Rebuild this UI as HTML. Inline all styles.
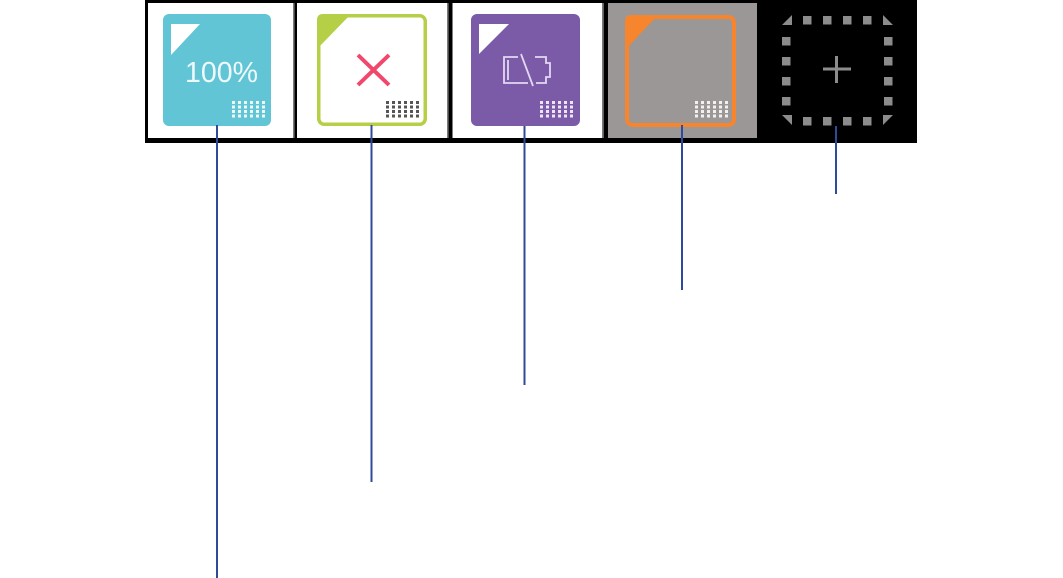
<!DOCTYPE html>
<html>
<head>
<meta charset="utf-8">
<style>
  html,body{margin:0;padding:0;background:#fff;}
  body{width:1063px;height:578px;overflow:hidden;position:relative;}
  svg{position:absolute;left:0;top:0;display:block;}
</style>
</head>
<body>
<svg width="1063" height="578" viewBox="0 0 1063 578" xmlns="http://www.w3.org/2000/svg">
  <defs>
    <g id="dots">
      <rect x="0" y="0" width="3" height="3"/><rect x="6" y="0" width="3" height="3"/><rect x="12" y="0" width="3" height="3"/><rect x="18" y="0" width="3" height="3"/><rect x="24" y="0" width="3" height="3"/><rect x="30" y="0" width="3" height="3"/>
      <rect x="0" y="4.5" width="3" height="3"/><rect x="6" y="4.5" width="3" height="3"/><rect x="12" y="4.5" width="3" height="3"/><rect x="18" y="4.5" width="3" height="3"/><rect x="24" y="4.5" width="3" height="3"/><rect x="30" y="4.5" width="3" height="3"/>
      <rect x="0" y="9" width="3" height="3"/><rect x="6" y="9" width="3" height="3"/><rect x="12" y="9" width="3" height="3"/><rect x="18" y="9" width="3" height="3"/><rect x="24" y="9" width="3" height="3"/><rect x="30" y="9" width="3" height="3"/>
      <rect x="0" y="13.5" width="3" height="3"/><rect x="6" y="13.5" width="3" height="3"/><rect x="12" y="13.5" width="3" height="3"/><rect x="18" y="13.5" width="3" height="3"/><rect x="24" y="13.5" width="3" height="3"/><rect x="30" y="13.5" width="3" height="3"/>
    </g>
  </defs>
  <rect x="0" y="0" width="1063" height="578" fill="#ffffff"/>
  <!-- strip background -->
  <rect x="145" y="0" width="772" height="143" fill="#000000"/>
  <!-- cells -->
  <rect x="148" y="3" width="145" height="135" fill="#ffffff"/>
  <rect x="293" y="3" width="1.6" height="135" fill="#7a7a7a"/>
  <rect x="297" y="3" width="150" height="135" fill="#ffffff"/>
  <rect x="447" y="3" width="1.6" height="135" fill="#7a7a7a"/>
  <rect x="452.5" y="3" width="149.5" height="135" fill="#ffffff"/>
  <rect x="602" y="3" width="1.8" height="135" fill="#7a7a7a"/>
  <rect x="608" y="3" width="149" height="135" fill="#9b9797"/>

  <!-- Tile 1: cyan 100% -->
  <rect x="163" y="14" width="108" height="112" rx="6" fill="#61c5d6"/>
  <polygon points="171,24 200,24 171,55" fill="#ffffff"/>
  <text x="185" y="82" font-family="'Liberation Sans', sans-serif" font-size="29" fill="#eef9fb" textLength="73" lengthAdjust="spacingAndGlyphs">100%</text>
  <use href="#dots" x="232" y="101" fill="#eef9fb"/>

  <!-- Tile 2: green border, red X -->
  <rect x="318.75" y="15.75" width="106.5" height="108.5" rx="5.5" fill="#ffffff" stroke="#b5cf46" stroke-width="3.5"/>
  <path d="M317,49 L317,20 Q317,14 323,14 L351,14 Z" fill="#b5cf46"/>
  <g stroke="#f2476c" stroke-width="4" stroke-linecap="butt">
    <line x1="358" y1="55" x2="389" y2="85"/>
    <line x1="389" y1="55" x2="358" y2="85"/>
  </g>
  <use href="#dots" x="386" y="101" fill="#555555"/>

  <!-- Tile 3: purple battery -->
  <rect x="471" y="14" width="109" height="112" rx="6" fill="#7b5ba8"/>
  <polygon points="479,24 509,24 479,54" fill="#ffffff"/>
  <g fill="none" stroke="#e4d8f2" stroke-width="1.8">
    <polyline points="518,57 504,57 504,83 528,83"/>
    <line x1="508" y1="60" x2="508" y2="80"/>
    <line x1="521" y1="54" x2="533" y2="86"/>
    <polyline points="535,57 546,57 546,63 550,63 550,77 546,77 546,83 536,83"/>
  </g>
  <use href="#dots" x="540" y="101" fill="#eee6f6"/>

  <!-- Tile 4: orange border on gray -->
  <rect x="627" y="17" width="107" height="108" rx="5.5" fill="#9b9797" stroke="#f6852e" stroke-width="4"/>
  <path d="M625,50 L625,21 Q625,15 631,15 L658,15 Z" fill="#f6852e"/>
  <use href="#dots" x="695" y="101" fill="#f2f0f0"/>

  <!-- Tile 5: dotted add slot -->
  <g fill="#8c8c8c">
    <rect x="803" y="16" width="8.5" height="8.5"/><rect x="823" y="16" width="8.5" height="8.5"/><rect x="843" y="16" width="8.5" height="8.5"/><rect x="863" y="16" width="8.5" height="8.5"/>
    <rect x="803" y="117" width="8.5" height="8.5"/><rect x="823" y="117" width="8.5" height="8.5"/><rect x="843" y="117" width="8.5" height="8.5"/><rect x="863" y="117" width="8.5" height="8.5"/>
    <rect x="782" y="37" width="8.5" height="8.5"/><rect x="782" y="57" width="8.5" height="8.5"/><rect x="782" y="77" width="8.5" height="8.5"/><rect x="782" y="97" width="8.5" height="8.5"/>
    <rect x="884" y="37" width="8.5" height="8.5"/><rect x="884" y="57" width="8.5" height="8.5"/><rect x="884" y="77" width="8.5" height="8.5"/><rect x="884" y="97" width="8.5" height="8.5"/>
    <polygon points="782,25 792,15 792,25"/>
    <polygon points="883,15 893,25 883,25"/>
    <polygon points="782,115 792,115 792,125"/>
    <polygon points="883,115 893,115 883,125"/>
    <rect x="823" y="67.5" width="28" height="3"/>
    <rect x="835" y="56" width="3" height="27"/>
  </g>

  <!-- connector lines -->
  <g fill="#2f4a9c">
    <rect x="216" y="125" width="2" height="453"/>
    <rect x="370.5" y="125" width="2" height="357"/>
    <rect x="523.5" y="126" width="2" height="259"/>
    <rect x="681" y="125" width="2" height="165"/>
    <rect x="835" y="126" width="2" height="68"/>
  </g>
</svg>
</body>
</html>
